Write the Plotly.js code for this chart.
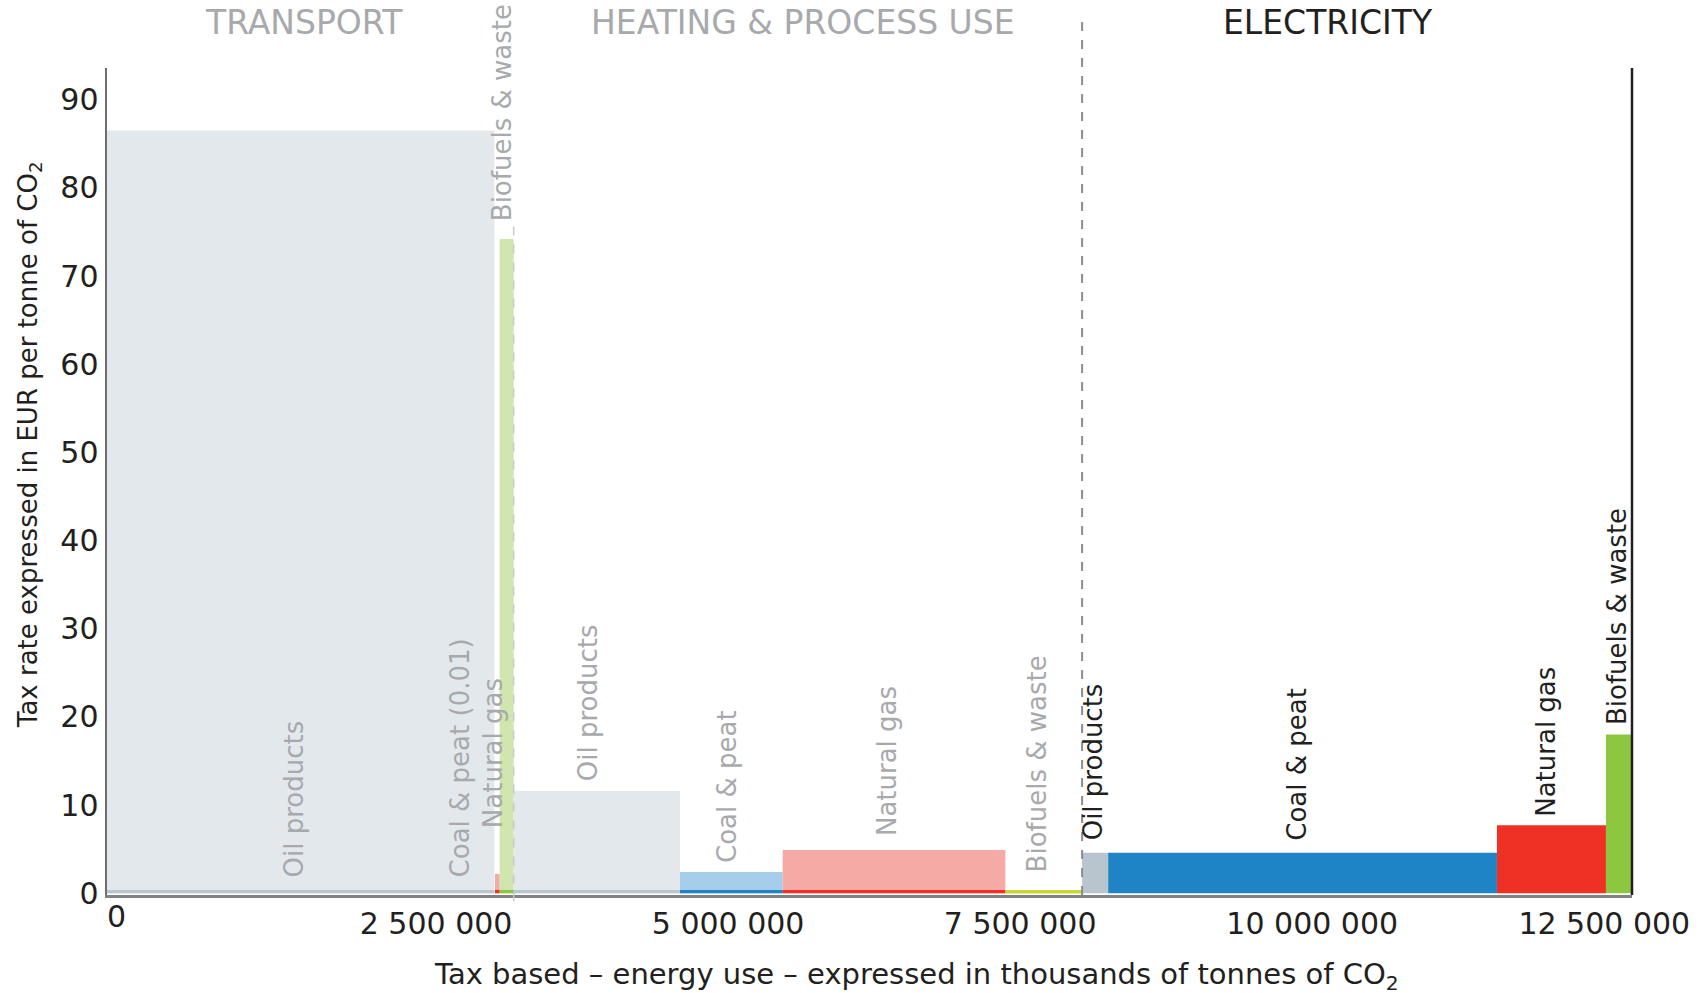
<!DOCTYPE html>
<html>
<head>
<meta charset="utf-8">
<script src="https://cdn.plot.ly/plotly-3.0.1.min.js"></script>
<style>
html, body { margin: 0; padding: 0; background: #ffffff; }
#chart { width: 1704px; height: 993px; }
</style>
</head>
<body>
<div id="chart"></div>
<script>
// ---------------- DATA ----------------
const sectorNames = ["TRANSPORT", "HEATING & PROCESS USE", "ELECTRICITY"];
const barSector = [0, 0, 0, 0, 1, 1, 1, 1, 2, 2, 2, 2];
const barLabels = [
  "Oil products", "Coal & peat (0.01)", "Natural gas", "Biofuels & waste",
  "Oil products", "Coal & peat", "Natural gas", "Biofuels & waste",
  "Oil products", "Coal & peat", "Natural gas", "Biofuels & waste"
];
// energy use (thousands of tonnes of CO2) = bar widths
const energyUse = [3316000, 5000, 40000, 120000,
                   1424000, 879000, 1906000, 657000,
                   223000, 3328000, 933000, 223000];
// tax rate (EUR per tonne of CO2) = bar heights
const taxRate = [86.5, 0.01, 2.2, 74.2,
                 11.6, 2.4, 4.9, 0.35,
                 4.6, 4.6, 7.7, 18.0];
const xTickVals = [2500000, 5000000, 7500000, 10000000, 12500000];
const xTickText = ["2 500 000", "5 000 000", "7 500 000", "10 000 000", "12 500 000"];
const yTickVals = [0, 10, 20, 30, 40, 50, 60, 70, 80, 90];
const yTickText = ["0", "10", "20", "30", "40", "50", "60", "70", "80", "90"];

// ---------------- STYLE ----------------
const fillColors = ["#e3e8ec", "#a6cde9", "#f5aaa6", "#d0e6ae",
                    "#e3e8ec", "#a6cde9", "#f5aaa6", "#c9d42e",
                    "#b8c5cf", "#1f84c6", "#ee3124", "#8dc63f"];
const stripColors = ["#b8c5cf", "#1f84c6", "#ee3124", "#8dc63f",
                     "#b8c5cf", "#1f84c6", "#ee3124", "#c9d42e",
                     null, null, null, null];
const STRIP = 0.38;
const GREY = "#a7a9ac", INK = "#231f20";
const sectorColors = [GREY, GREY, INK];
const sectorXShift = [-6, 5, -29];
// label placement: [dx px, gap px above bar top, inside-from-bottom flag]
const labelPlace = [
  [-7, 14, true], [-35, 14, true], [-4, 44, false], [-5, 16, false],
  [-8, 8, false], [-5, 7, false], [-7, 12, false], [-7, 16, false],
  [-2, 10, false], [-5, 10, false], [-5, 7, false], [-2, 8, false]
];
const FONT = "DejaVu Sans";

// ---------------- GEOMETRY FROM DATA ----------------
const starts = [];
let acc = 0;
energyUse.forEach(w => { starts.push(acc); acc += w; });
const XMAX = acc;
const centers = energyUse.map((w, i) => starts[i] + w / 2);
const YMIN = -0.2, YMAX = 93.6;

const sectorStart = [0, 0, 0], sectorEnd = [0, 0, 0];
[0, 1, 2].forEach(s => {
  const idx = barSector.map((v, i) => v === s ? i : -1).filter(i => i >= 0);
  sectorStart[s] = starts[idx[0]];
  sectorEnd[s] = starts[idx[idx.length - 1]] + energyUse[idx[idx.length - 1]];
});

const mainTrace = {
  type: "bar",
  x: centers,
  y: taxRate,
  width: energyUse,
  marker: { color: fillColors, line: { width: 0 } },
  hoverinfo: "skip"
};
const stripTrace = {
  type: "bar",
  x: centers,
  y: taxRate.map(v => Math.min(STRIP, v)),
  width: energyUse,
  marker: { color: stripColors.map(c => c || "rgba(0,0,0,0)"), line: { width: 0 } },
  hoverinfo: "skip"
};

const annotations = [];
barLabels.forEach((t, i) => {
  const p = labelPlace[i];
  annotations.push({
    x: centers[i], xref: "x",
    y: p[2] ? 0 : taxRate[i], yref: "y",
    text: t, textangle: -90, showarrow: false,
    xanchor: "center", yanchor: "bottom",
    xshift: p[0], yshift: p[1],
    font: { family: FONT, size: 26, color: barSector[i] === 2 ? INK : GREY }
  });
});
sectorNames.forEach((s, k) => {
  annotations.push({
    x: (sectorStart[k] + sectorEnd[k]) / 2, xref: "x",
    y: 1.0556, yref: "paper",
    text: s, showarrow: false, xanchor: "center", yanchor: "middle",
    xshift: sectorXShift[k],
    font: { family: FONT, size: 33, color: sectorColors[k] }
  });
});
annotations.push({
  x: 0, xref: "x", y: -0.0266, yref: "paper", text: "0", showarrow: false,
  xanchor: "left", yanchor: "middle", xshift: -2,
  font: { family: FONT, size: 30, color: INK }
});
annotations.push({
  x: 0.531, xref: "paper", y: -0.0985, yref: "paper",
  text: "Tax based – energy use – expressed in thousands of tonnes of CO<sub>2</sub>",
  showarrow: false, xanchor: "center", yanchor: "middle",
  font: { family: FONT, size: 29, color: INK }
});
annotations.push({
  x: -0.0511, xref: "paper", y: 0.544, yref: "paper",
  text: "Tax rate expressed in EUR per tonne of CO<sub>2</sub>",
  textangle: -90, showarrow: false, xanchor: "center", yanchor: "middle",
  font: { family: FONT, size: 26, color: INK }
});

const shapes = [
  { // heating / electricity divider
    type: "line", xref: "paper", yref: "paper",
    x0: sectorEnd[1] / XMAX, x1: sectorEnd[1] / XMAX, y0: 0, y1: 1.064,
    line: { color: "#8a8c8f", width: 2, dash: "dash" }, layer: "above"
  },
  { // transport / heating divider
    type: "line", xref: "paper", yref: "paper",
    x0: sectorEnd[0] / XMAX, x1: sectorEnd[0] / XMAX, y0: -0.008, y1: 0.81,
    line: { color: "#c7c8ca", width: 1.5, dash: "dash" }, layer: "above"
  },
  { // right closing line
    type: "line", xref: "paper", yref: "paper",
    x0: 1, x1: 1, y0: 0, y1: 1,
    line: { color: INK, width: 2.5 }, layer: "above"
  }
];

const layout = {
  width: 1704, height: 993,
  margin: { l: 107, r: 72, t: 68, b: 98, pad: 0 },
  paper_bgcolor: "#ffffff", plot_bgcolor: "#ffffff",
  showlegend: false,
  barmode: "overlay",
  font: { family: FONT, color: INK },
  xaxis: {
    range: [0, XMAX], showgrid: false, zeroline: false,
    showline: true, linecolor: "#808285", linewidth: 2.5,
    tickmode: "array", tickvals: xTickVals, ticktext: xTickText,
    ticks: "", tickfont: { family: FONT, size: 30, color: INK },
    ticklabelshift: 37, fixedrange: true
  },
  yaxis: {
    range: [YMIN, YMAX], showgrid: false, zeroline: false,
    showline: true, linecolor: "#6d6e71", linewidth: 2.5,
    tickmode: "array", tickvals: yTickVals, ticktext: yTickText,
    ticks: "", tickfont: { family: FONT, size: 30, color: INK },
    fixedrange: true
  },
  annotations: annotations,
  shapes: shapes
};

Plotly.newPlot("chart", [mainTrace, stripTrace], layout, { staticPlot: true, displayModeBar: false });
</script>
</body>
</html>
